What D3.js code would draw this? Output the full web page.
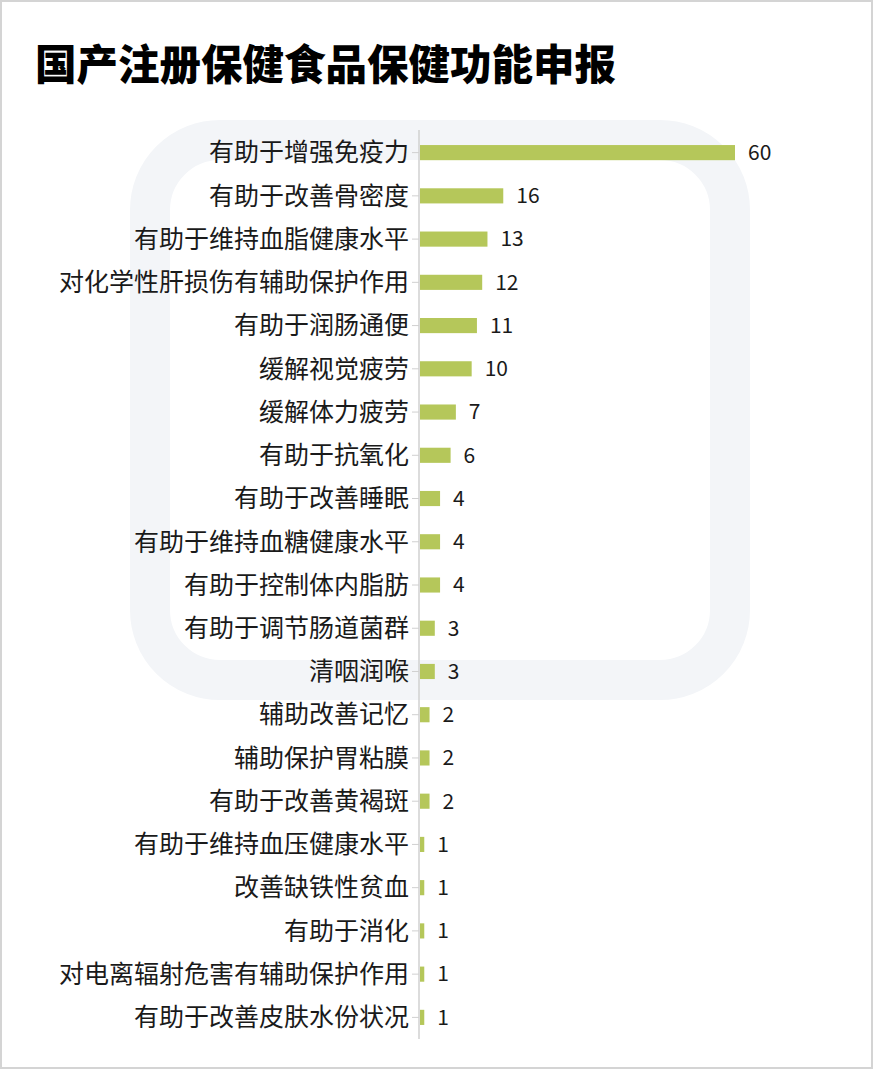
<!DOCTYPE html>
<html><head><meta charset="utf-8">
<script src="https://cdn.jsdelivr.net/npm/d3@7"></script>
<style>body{margin:0;background:#fff;}svg{display:block;}</style>
</head><body>
<svg id="chart" width="875" height="1083"></svg>
<script>
const title = "国产注册保健食品保健功能申报";
const categories = ["有助于增强免疫力","有助于改善骨密度","有助于维持血脂健康水平","对化学性肝损伤有辅助保护作用","有助于润肠通便","缓解视觉疲劳","缓解体力疲劳","有助于抗氧化","有助于改善睡眠","有助于维持血糖健康水平","有助于控制体内脂肪","有助于调节肠道菌群","清咽润喉","辅助改善记忆","辅助保护胃粘膜","有助于改善黄褐斑","有助于维持血压健康水平","改善缺铁性贫血","有助于消化","对电离辐射危害有辅助保护作用","有助于改善皮肤水份状况"];
const values = [60,16,13,12,11,10,7,6,4,4,4,3,3,2,2,2,1,1,1,1,1];

const svg = d3.select("#chart");
const font = "'Noto Sans CJK SC','Microsoft YaHei',sans-serif";

// frame border
svg.append("rect").attr("x",1).attr("y",1).attr("width",871).attr("height",1067)
  .attr("fill","#fff").attr("stroke","#d4d4d4").attr("stroke-width",2);

// faint watermark shape
svg.append("rect").attr("x",150).attr("y",140).attr("width",580).attr("height",540).attr("rx",70)
  .attr("fill","none").attr("stroke","#f3f5f8").attr("stroke-width",40);

// title
svg.append("text").attr("x",35).attr("y",80)
  .attr("font-family",font).attr("font-weight",900).attr("font-size",41.5).attr("fill","#000")
  .text(title);

const x0 = 419;
const x = d3.scaleLinear().domain([0,60]).range([x0, 735]);
const y = d3.scaleBand().domain(categories).range([131,1039]).paddingInner(0.65).paddingOuter(0.325);

// tick marks at row centers (left of axis)
svg.append("g").selectAll("line").data(categories).join("line")
  .attr("x1",x0-7).attr("x2",x0).attr("y1",d=>y(d)+y.bandwidth()/2).attr("y2",d=>y(d)+y.bandwidth()/2)
  .attr("stroke","#d0d0d0").attr("stroke-width",1);

// axis line
svg.append("line").attr("x1",x0).attr("x2",x0).attr("y1",130).attr("y2",1039)
  .attr("stroke","#d0d0d0").attr("stroke-width",1.5);

// bars
svg.append("g").selectAll("rect").data(categories).join("rect")
  .attr("x",x0+1).attr("y",d=>y(d)).attr("height",y.bandwidth())
  .attr("width",(d,i)=>x(values[i])-x0-1)
  .attr("fill","#b5c75a");

// category labels
svg.append("g").selectAll("text").data(categories).join("text")
  .attr("x",x0-10).attr("y",d=>y(d)+y.bandwidth()/2).attr("dy","0.35em")
  .attr("text-anchor","end").attr("font-family",font).attr("font-size",25).attr("fill","#1a1a1a")
  .text(d=>d);

// value labels
svg.append("g").selectAll("text").data(categories).join("text")
  .attr("x",(d,i)=>x(values[i])+13).attr("y",d=>y(d)+y.bandwidth()/2).attr("dy","0.35em")
  .attr("font-family",font).attr("font-size",21).attr("fill","#1a1a1a")
  .text((d,i)=>values[i]);
</script>
</body></html>
